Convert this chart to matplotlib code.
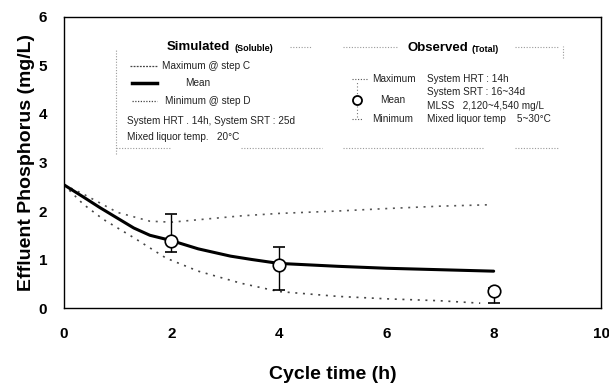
import matplotlib
matplotlib.use("Agg")

import matplotlib.pyplot as plt  # noqa: E402
from matplotlib.lines import Line2D  # noqa: E402

plt.rcParams["font.family"] = ["Liberation Sans", "DejaVu Sans"]

# ─── Data ────────────────────────────────────────────────────────────────────

sim_time_mean = [0, 0.36, 0.67, 1.0, 1.3, 1.6, 2.0, 2.5, 3.1, 3.5, 4.0, 5.1, 6.0, 7.0, 8.0]
sim_mean = [2.54, 2.29, 2.07, 1.85, 1.65, 1.50, 1.39, 1.22, 1.07, 1.0, 0.92, 0.86, 0.82, 0.79, 0.76]

sim_time_max = [0, 0.36, 1.0, 1.6, 2.0, 2.5, 3.3, 4.0, 5.1, 6.0, 7.0, 7.95]
sim_max = [2.54, 2.35, 1.97, 1.79, 1.77, 1.82, 1.90, 1.95, 2.00, 2.05, 2.10, 2.13]

sim_time_min = [0, 0.36, 0.73, 1.3, 1.9, 2.5, 3.3, 4.0, 5.1, 6.0, 7.0, 7.75]
sim_min = [2.54, 2.14, 1.83, 1.45, 1.03, 0.76, 0.51, 0.34, 0.24, 0.19, 0.15, 0.10]

obs_time = [2, 4, 8]
obs_mean = [1.38, 0.88, 0.36]
obs_max = [1.93, 1.25, 0.42]
obs_min = [1.16, 0.37, 0.10]

x_ticks = [0, 2, 4, 6, 8, 10]
y_ticks = [0, 1, 2, 3, 4, 5, 6]

# ─── Figure ──────────────────────────────────────────────────────────────────

fig = plt.figure(figsize=(6.09, 3.86), dpi=100)
ax = fig.add_axes([0.105, 0.202, 0.882, 0.754])

dot_style = (0, (1.2, 3.4))
ax.plot(sim_time_max, sim_max, color="#555555", lw=1.2, ls=dot_style)
ax.plot(sim_time_min, sim_min, color="#444444", lw=1.2, ls=dot_style)
ax.plot(sim_time_mean, sim_mean, color="black", lw=2.2, solid_capstyle="round",
        solid_joinstyle="round")

err_lo = [m - lo for m, lo in zip(obs_mean, obs_min)]
err_hi = [hi - m for m, hi in zip(obs_mean, obs_max)]
ax.errorbar(obs_time, obs_mean, yerr=[err_lo, err_hi], fmt="o", ms=9,
            mfc="white", mec="black", mew=1.2, ecolor="black", elinewidth=1.0,
            capsize=4, capthick=1.0, zorder=5)

ax.set_xlim(0, 10)
ax.set_ylim(0, 6)
ax.set_xticks(x_ticks)
ax.set_yticks(y_ticks)
ax.tick_params(length=0, labelsize=11, pad=14)
for lab in ax.get_xticklabels() + ax.get_yticklabels():
    lab.set_fontweight("bold")
ax.tick_params(axis="y", pad=12)
for sp in ax.spines.values():
    sp.set_linewidth(1.0)

ax.set_xlabel("Cycle time (h)", fontsize=14, fontweight="bold", labelpad=18)
ax.set_ylabel("Effluent Phosphorus (mg/L)", fontsize=14, fontweight="bold", labelpad=3)

# ─── Hand-built legend panel ─────────────────────────────────────────────────

T = ax.transAxes
fs = 7.2
txt = dict(transform=T, fontsize=fs, va="center", color="#222222")

# faint dotted frame pieces
faint = dict(transform=T, color="#9a9a9a", lw=0.8, ls=(0, (1, 1.5)))
ax.add_line(Line2D([0.097, 0.097], [0.53, 0.89], **faint))
ax.add_line(Line2D([0.097, 0.20], [0.55, 0.55], **faint))
ax.add_line(Line2D([0.33, 0.48], [0.55, 0.55], **faint))
ax.add_line(Line2D([0.52, 0.78], [0.55, 0.55], **faint))
ax.add_line(Line2D([0.84, 0.92], [0.55, 0.55], **faint))
ax.add_line(Line2D([0.42, 0.46], [0.897, 0.897], **faint))
ax.add_line(Line2D([0.52, 0.62], [0.897, 0.897], **faint))
ax.add_line(Line2D([0.84, 0.92], [0.897, 0.897], **faint))
ax.add_line(Line2D([0.93, 0.93], [0.86, 0.90], **faint))

# Simulated group
ax.text(0.192, 0.897, "Simulated", transform=T, fontsize=9.5, fontweight="bold", va="center")
ax.text(0.318, 0.893, "(Soluble)", transform=T, fontsize=6.5, fontweight="bold", va="center")
ax.add_line(Line2D([0.123, 0.173], [0.832, 0.832], transform=T, color="#444444",
                   lw=0.9, ls=(0, (1.5, 1))))
ax.text(0.182, 0.832, "Maximum @ step C", **txt)
ax.add_line(Line2D([0.127, 0.173], [0.773, 0.773], transform=T, color="black", lw=2.5))
ax.text(0.225, 0.773, "Mean", **txt)
ax.add_line(Line2D([0.127, 0.173], [0.711, 0.711], transform=T, color="#444444",
                   lw=0.9, ls=(0, (1, 1.2))))
ax.text(0.188, 0.711, "Minimum @ step D", **txt)
ax.text(0.117, 0.643, "System HRT . 14h, System SRT : 25d", **txt)
ax.text(0.117, 0.588, "Mixed liquor temp.   20\u00b0C", **txt)

# Observed group
ax.text(0.639, 0.893, "Observed", transform=T, fontsize=9.5, fontweight="bold", va="center")
ax.text(0.758, 0.889, "(Total)", transform=T, fontsize=6.5, fontweight="bold", va="center")
ax.add_line(Line2D([0.536, 0.564], [0.787, 0.787], transform=T, color="#555555",
                   lw=0.8, ls=(0, (1, 1.5))))
ax.add_line(Line2D([0.546, 0.546], [0.655, 0.775], transform=T, color="#777777",
                   lw=0.8, ls=(0, (1, 2))))
ax.add_line(Line2D([0.536, 0.556], [0.648, 0.648], transform=T, color="#555555",
                   lw=0.8, ls=(0, (1, 1.5))))
ax.add_line(Line2D([0.546], [0.715], transform=T, marker="o", ms=6.5, mfc="white",
                   mec="black", mew=1.3, ls="none"))
ax.text(0.574, 0.787, "Maximum", **txt)
ax.text(0.589, 0.715, "Mean", **txt)
ax.text(0.574, 0.648, "Minimum", **txt)
ax.text(0.676, 0.787, "System HRT : 14h", **txt)
ax.text(0.676, 0.742, "System SRT : 16~34d", **txt)
ax.text(0.676, 0.694, "MLSS   2,120~4,540 mg/L", **txt)
ax.text(0.676, 0.648, "Mixed liquor temp    5~30\u00b0C", **txt)

fig.savefig("out.png", dpi=100)
